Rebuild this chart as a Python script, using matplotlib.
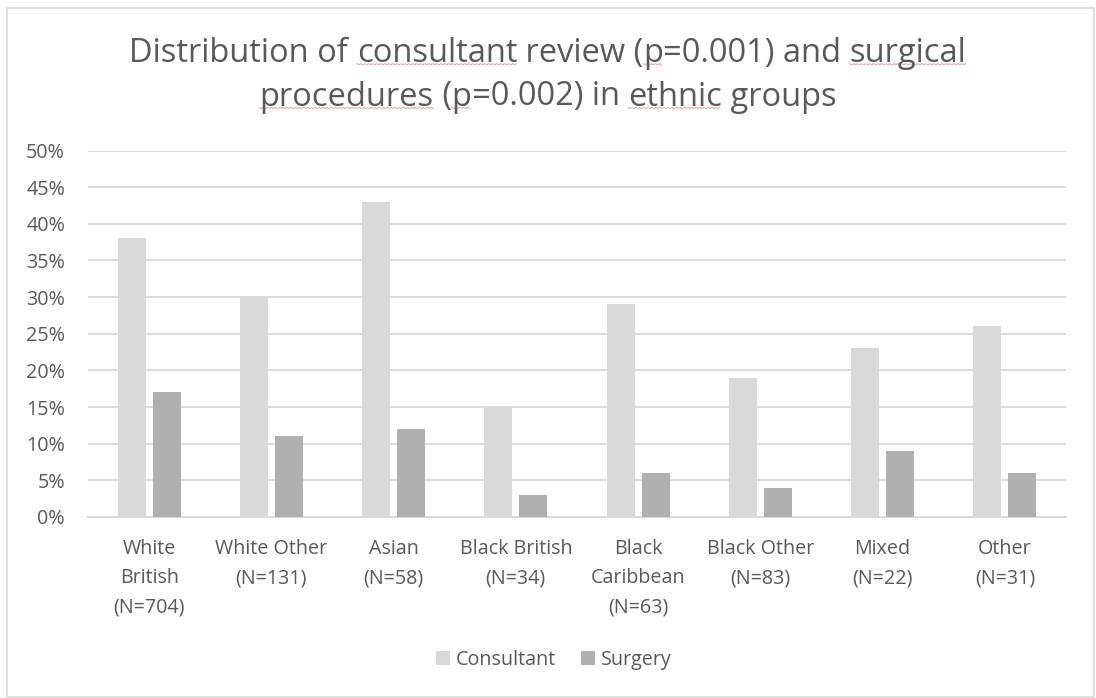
import matplotlib
matplotlib.use("Agg")
import matplotlib.pyplot as plt
import numpy as np
from matplotlib.patches import Rectangle, Patch

plt.rcParams['font.family'] = ['Open Sans', 'DejaVu Sans']

categories = ["White\nBritish\n(N=704)", "White Other\n(N=131)", "Asian\n(N=58)",
              "Black British\n(N=34)", "Black\nCaribbean\n(N=63)", "Black Other\n(N=83)",
              "Mixed\n(N=22)", "Other\n(N=31)"]
consultant = [38, 30, 43, 15, 29, 19, 23, 26]
surgery = [17, 11, 12, 3, 6, 4, 9, 6]
yticks = [0, 5, 10, 15, 20, 25, 30, 35, 40, 45, 50]

TEXT = "#595959"
GRID = "#D9D9D9"
C_CONS = "#D9D9D9"
C_SURG = "#B0B0B0"
LBL = 14.2

W, H = 1096, 698
fig = plt.figure(figsize=(W / 100, H / 100), dpi=100)

# outer chart frame
fig.add_artist(Rectangle((7 / W, 1 - 697 / H), (1094 - 7) / W, (697 - 8) / H,
                         transform=fig.transFigure, fill=False, edgecolor=GRID, lw=1.2))

ax = fig.add_axes([88 / W, 1 - 517 / H, (1066 - 88) / W, (517 - 150.5) / H])
x = np.arange(len(categories))
bw = 0.23
off = 0.143
ax.bar(x - off, np.array(consultant) / 100, bw, color=C_CONS, zorder=3, label="Consultant")
ax.bar(x + off, np.array(surgery) / 100, bw, color=C_SURG, zorder=3, label="Surgery")

ax.set_xlim(-0.5, len(categories) - 0.5)
ax.set_ylim(0, 0.5)
ax.set_yticks([v / 100 for v in yticks])
ax.set_yticklabels([f"{v}%" for v in yticks])
ax.set_xticks(x)
ax.set_xticklabels(categories, linespacing=1.6)
ax.tick_params(axis='y', length=0, pad=16.5, labelsize=LBL, labelcolor=TEXT)
ax.tick_params(axis='x', length=0, pad=16, labelsize=LBL, labelcolor=TEXT)
for s in ["top", "right", "left"]:
    ax.spines[s].set_visible(False)
ax.spines["bottom"].set_color(GRID)
ax.spines["bottom"].set_linewidth(1.3)
ax.yaxis.grid(True, color=GRID, lw=1.3, zorder=0)
ax.set_axisbelow(True)

# title with spell-check style underlines under selected fragments
title_lines = [
    [("Distribution of ", False), ("consultant", True), (" review (", False), ("p", True),
     ("=0.001) and ", False), ("surgical", True)],
    [("procedures", True), (" (", False), ("p", True), ("=0.002) in ", False),
     ("ethnic", True), (" groups", False)],
]
title_base = [61.7, 105.5]
tsize = 23.5
fig.canvas.draw()
renderer = fig.canvas.get_renderer()
for segs, yb in zip(title_lines, title_base):
    widths = []
    for txt, _ in segs:
        t = fig.text(0, 0, txt, fontsize=tsize)
        widths.append(t.get_window_extent(renderer).width)
        t.remove()
    t = fig.text(0, 0, "".join(s for s, _ in segs), fontsize=tsize)
    total = t.get_window_extent(renderer).width
    t.remove()
    scale = total / sum(widths)
    xpos = (W - total) / 2
    for (txt, ul), w in zip(segs, widths):
        w *= scale
        fig.text(xpos / W, 1 - yb / H, txt, fontsize=tsize, color=TEXT,
                 ha="left", va="baseline")
        if ul:
            xs = np.arange(xpos, xpos + w, 2.0)
            ys = (yb + 2) + np.where(np.arange(len(xs)) % 2 == 0, 0.0, 1.0)
            fig.add_artist(plt.Line2D(xs / W, 1 - ys / H, transform=fig.transFigure,
                                      color="#F4A6A6", lw=0.8))
        xpos += w

handles = [Patch(facecolor=C_CONS, edgecolor="none", label="Consultant"),
           Patch(facecolor=C_SURG, edgecolor="none", label="Surgery")]
fig.legend(handles=handles, loc="center", bbox_to_anchor=(554 / W, 1 - 660 / H), ncol=2,
           frameon=False, fontsize=LBL, labelcolor=TEXT, handlelength=0.7,
           handleheight=0.7, handletextpad=0.3, columnspacing=1.25,
           borderpad=0, borderaxespad=0)

fig.savefig("out.png", dpi=100, facecolor="white")
